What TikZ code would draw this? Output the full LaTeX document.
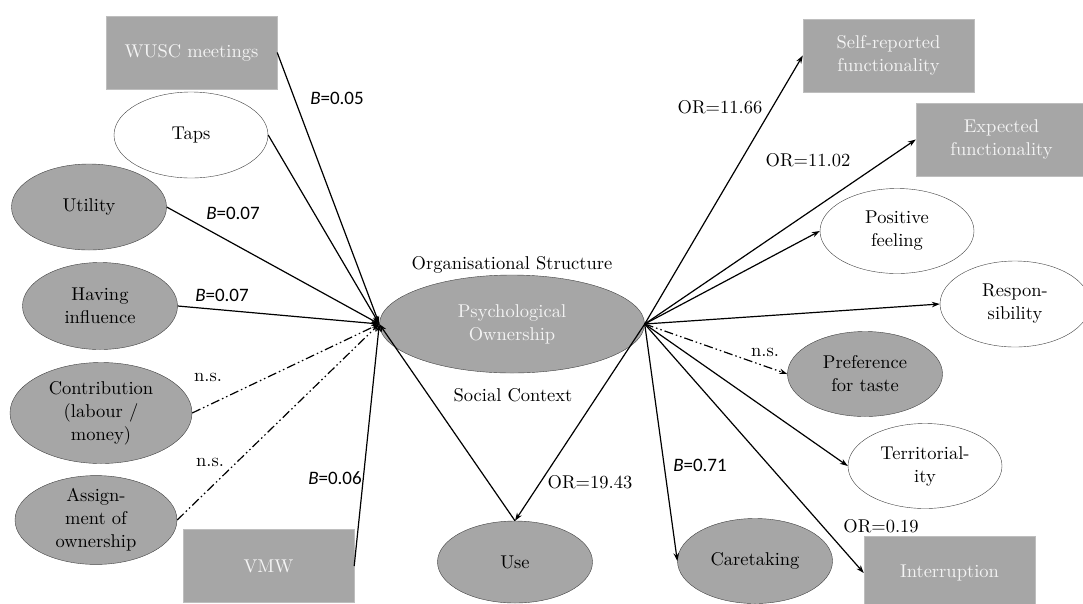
\documentclass[tikz,border=0pt]{standalone}
\usepackage{fontspec}
\setmainfont{lmroman10-regular.otf}[ItalicFont=lmroman10-italic.otf, BoldFont=lmroman10-bold.otf]
\newfontfamily\numfont{Carlito}
\usepackage{tikz}
\usetikzlibrary{positioning, shapes.geometric, arrows.meta}
\definecolor{boxgrey}{RGB}{166,166,166}
\definecolor{rimgrey}{RGB}{190,190,190}
\definecolor{paletext}{RGB}{244,244,244}
\tikzstyle{greybox} = [rectangle, minimum width=171pt, minimum height=73pt, align=center, draw=rimgrey, fill=boxgrey, text=paletext]
\tikzstyle{greyoval} = [ellipse, minimum width=155pt, minimum height=86pt, inner sep=0pt, align=center, draw=black!75, fill=boxgrey]
\tikzstyle{whiteoval} = [ellipse, minimum width=154pt, minimum height=86pt, inner sep=0pt, align=center, draw=black!75, fill=white]
\tikzstyle{arrow} = [line width=1.2pt, -{Stealth[length=8pt,width=5.5pt]}]
\tikzstyle{nsarrow} = [arrow, dash pattern=on 9pt off 3pt on 1.5pt off 3pt on 1.5pt off 3pt]
\tikzstyle{coef} = [inner sep=1pt, font=\numfont\fontsize{19pt}{23pt}\selectfont]
\tikzstyle{note} = [inner sep=1pt]

\begin{document}
\begin{tikzpicture}[x=1pt, y=-1pt, font=\fontsize{18.5pt}{23pt}\selectfont]
        \useasboundingbox (0,0) rectangle (1083,603);

        % antecedents
        \node[greybox]                                   (wusc)      at (191.5,52.5) {WUSC meetings};
        \node[whiteoval]                                 (taps)      at (191,135)    {Taps};
        \node[greyoval]                                  (utility)   at (89,207)     {Utility};
        \node[greyoval, minimum height=87pt]             (influence) at (100,306)    {Having\\influence};
        \node[greyoval, minimum width=182pt, minimum height=101pt] (contrib) at (101,413) {Contribution\\(labour /\\money)};
        \node[greyoval, minimum width=162pt, minimum height=85pt]  (assign)  at (96,520)  {Assign-\\ment of\\ownership};
        \node[greybox]                                   (vmw)       at (268.5,566)  {VMW};

        % centre
        \node[greyoval, minimum width=265pt, minimum height=98pt, text=paletext] (po) at (512,324) {Psychological\\Ownership};
        \node[note]                                      (orgstruct) at (512,265)    {Organisational Structure};
        \node[note]                                      (social)    at (513,395)    {Social Context};
        \node[greyoval, minimum height=82pt]             (use)       at (515,562)    {Use};

        % outcomes
        \node[greybox]                                   (selfrep)   at (888.5,55.5) {Self-reported\\functionality};
        \node[greybox]                                   (expected)  at (1001.5,139.5) {Expected\\functionality};
        \node[whiteoval, minimum height=85pt]            (positive)  at (897,231)    {Positive\\feeling};
        \node[whiteoval, minimum width=150pt]            (respons)   at (1015,304)   {Respon-\\sibility};
        \node[greyoval, minimum height=85pt]             (taste)     at (865,374)    {Preference\\for taste};
        \node[whiteoval, minimum height=85pt]            (territ)    at (925,466)    {Territorial-\\ity};
        \node[greyoval, minimum height=85pt]             (caretake)  at (755,561)    {Caretaking};
        \node[greybox]                                   (interrupt) at (949.5,573)  {Interruption};

        % into psychological ownership
        \draw[arrow]   (wusc.east)      -- (po.west);
        \draw[arrow]   (taps.east)      -- (po.west);
        \draw[arrow]   (utility.east)   -- (po.west);
        \draw[arrow]   (influence.east) -- (po.west);
        \draw[nsarrow] (contrib.east)   -- (po.west);
        \draw[nsarrow] (assign.east)    -- (po.west);
        \draw[arrow]   (vmw.east)       -- (po.west);
        \draw[arrow]   (use.north)      -- (po.west);

        % out of psychological ownership
        \draw[arrow]   (po.east) -- (selfrep.west);
        \draw[arrow]   (po.east) -- (expected.west);
        \draw[arrow]   (po.east) -- (positive.west);
        \draw[arrow]   (po.east) -- (respons.west);
        \draw[nsarrow] (po.east) -- (taste.west);
        \draw[arrow]   (po.east) -- (territ.west);
        \draw[arrow]   (po.east) -- (caretake.west);
        \draw[arrow]   (po.east) -- (interrupt.west);
        \draw[arrow]   (po.east) -- (use.north);

        % coefficients
        \node[coef] (b wusc)     at (337,98)  {\textit{B}=0.05};
        \node[coef] (b utility)  at (233,213) {\textit{B}=0.07};
        \node[coef] (b infl)     at (222,295) {\textit{B}=0.07};
        \node[note] (ns contrib) at (208,377) {n.s.};
        \node[note] (ns assign)  at (210,462) {n.s.};
        \node[coef] (b vmw)      at (335,478) {\textit{B}=0.06};
        \node[note] (or use)     at (590,482) {OR=19.43};
        \node[note] (or self)    at (720,107) {OR=11.66};
        \node[note] (or exp)     at (808,160) {OR=11.02};
        \node[note] (ns taste)   at (765,352) {n.s.};
        \node[coef] (b care)     at (700,465) {\textit{B}=0.71};
        \node[note] (or intr)    at (881,526) {OR=0.19};
    \end{tikzpicture}
\end{document}
